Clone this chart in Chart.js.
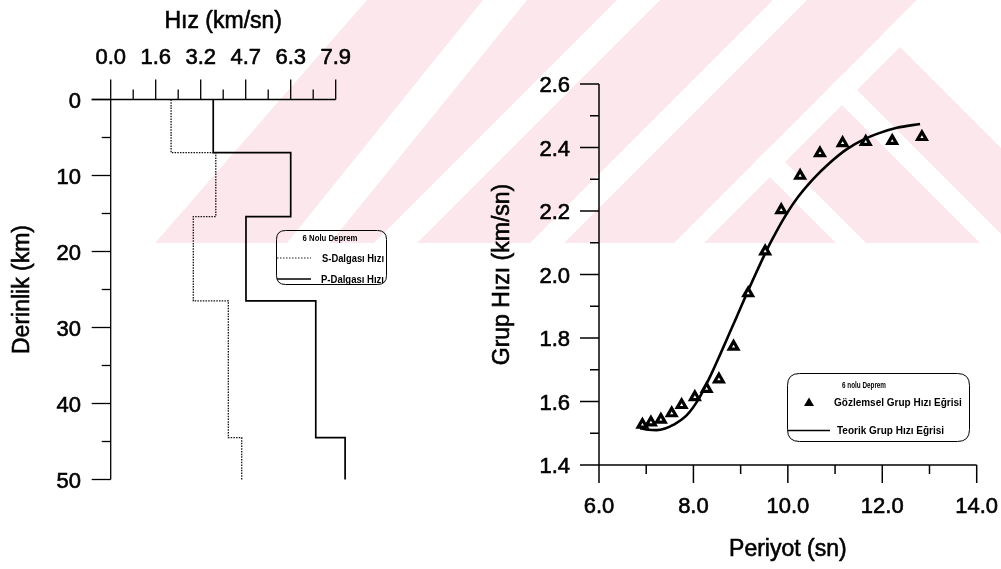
<!DOCTYPE html>
<html><head><meta charset="utf-8">
<script src="https://cdn.jsdelivr.net/npm/chart.js@4.4.0/dist/chart.umd.min.js"></script>
<style>
html,body{margin:0;padding:0;background:#fff;width:1001px;height:569px;overflow:hidden;}
#wm{position:absolute;left:0;top:0;}
canvas{position:absolute;left:0;top:0;}
</style></head><body>
<svg id="wm" width="1001" height="569" xmlns="http://www.w3.org/2000/svg">
  <polygon points="367,0 1001,0 1001,243 155,243" fill="#fce8ec"/>
  <g fill="#ffffff">
    <polygon points="483,0 527,0 330,243 287,243"/>
    <polygon points="617,0 660,0 417,243 374,243"/>
    <polygon points="773,0 807,0 564,243 530,243"/>
    <polygon points="917,0 947,0 704,243 674,243"/>
    <polygon points="842,75 1010,243 980,243 827,90"/>
    <polygon points="770,147 866,243 836,243 755,162"/>
    <polygon points="917,0 1001,0 1001,148 885,32"/>
  </g>
</svg>
<canvas id="c1" width="1001" height="569" style="width:1001px;height:569px"></canvas>
<canvas id="c2" width="1001" height="569" style="width:1001px;height:569px"></canvas>
<script>
// ---------- Data: left chart (velocity-depth profile) ----------
const depthBounds = [0, 7.0, 15.4, 26.5, 44.5, 50];
const sWaveVel = [2.12, 3.69, 2.90, 4.13, 4.60];
const pWaveVel = [3.60, 6.32, 4.75, 7.20, 8.23];
const velTicks = [0, 1.58, 3.16, 4.74, 6.32, 7.9];
const velTickLabels = ['0.0', '1.6', '3.2', '4.7', '6.3', '7.9'];
const depthTicks = [0, 10, 20, 30, 40, 50];
const depthTickLabels = ['0', '10', '20', '30', '40', '50'];

// ---------- Data: right chart (group velocity dispersion) ----------
const obsPeriod = [6.92, 7.10, 7.31, 7.54, 7.75, 8.03, 8.28, 8.54, 8.85, 9.16, 9.52, 9.86, 10.26, 10.68, 11.16, 11.65, 12.21, 12.84];
const obsGroupVel = [1.527, 1.534, 1.543, 1.563, 1.589, 1.614, 1.640, 1.670, 1.773, 1.941, 2.073, 2.203, 2.311, 2.382, 2.414, 2.418, 2.421, 2.433];
const theoPeriod = [6.87, 7.05, 7.22, 7.40, 7.57, 7.86, 8.10, 8.25, 8.39, 8.56, 8.77, 8.99, 9.16, 9.34, 9.48, 9.66, 9.90, 10.15, 10.54, 10.89, 11.25, 11.60, 11.95, 12.31, 12.80];
const theoGroupVel = [1.516, 1.511, 1.510, 1.515, 1.526, 1.557, 1.605, 1.647, 1.690, 1.746, 1.817, 1.892, 1.950, 2.009, 2.054, 2.108, 2.173, 2.231, 2.301, 2.352, 2.395, 2.425, 2.446, 2.462, 2.474];
const periodTicks = [6, 8, 10, 12, 14];
const periodTickLabels = ['6.0', '8.0', '10.0', '12.0', '14.0'];
const gvTicks = [1.4, 1.6, 1.8, 2.0, 2.2, 2.4, 2.6];
const gvTickLabels = ['1.4', '1.6', '1.8', '2.0', '2.2', '2.4', '2.6'];

const FONT = '"Liberation Sans", Arial, Helvetica, sans-serif';

function stepPoints(vels) {
  const pts = [];
  vels.forEach((v, i) => {
    pts.push({x: v, y: depthBounds[i]});
    pts.push({x: v, y: depthBounds[i + 1]});
  });
  return pts;
}
function seg(ctx, x1, y1, x2, y2) { ctx.beginPath(); ctx.moveTo(x1, y1); ctx.lineTo(x2, y2); ctx.stroke(); }
function txt(ctx, s, x, y, font, align, maxW, heavy) {
  ctx.save();
  ctx.font = font; ctx.textAlign = align || 'left'; ctx.textBaseline = 'alphabetic';
  ctx.fillStyle = '#000'; ctx.strokeStyle = '#000';
  if (maxW) ctx.fillText(s, x, y, maxW); else ctx.fillText(s, x, y);
  if (heavy) {
    ctx.lineWidth = heavy; ctx.setLineDash([]);
    if (maxW) ctx.strokeText(s, x, y, maxW); else ctx.strokeText(s, x, y);
  }
  ctx.restore();
}
function rrect(ctx, x, y, w, h, r) {
  ctx.beginPath();
  ctx.moveTo(x + r, y); ctx.lineTo(x + w - r, y); ctx.quadraticCurveTo(x + w, y, x + w, y + r);
  ctx.lineTo(x + w, y + h - r); ctx.quadraticCurveTo(x + w, y + h, x + w - r, y + h);
  ctx.lineTo(x + r, y + h); ctx.quadraticCurveTo(x, y + h, x, y + h - r);
  ctx.lineTo(x, y + r); ctx.quadraticCurveTo(x, y, x + r, y); ctx.closePath(); ctx.stroke();
}

// ---------- Left chart axes / legend plugin ----------
const leftDecor = {
  id: 'leftDecor',
  afterDatasetsDraw(chart) {
    const {ctx, scales: {x, y}} = chart;
    ctx.save();
    ctx.strokeStyle = '#000'; ctx.fillStyle = '#000'; ctx.lineWidth = 1.3;
    const x0 = x.getPixelForValue(0), xE = x.getPixelForValue(velTicks[velTicks.length - 1]);
    const y0 = y.getPixelForValue(0), yE = y.getPixelForValue(50);
    seg(ctx, x0, y0, x0, yE);
    seg(ctx, x0 - 19, y0, xE, y0);
    for (let d = 0; d <= 50; d += 5) {
      const py = y.getPixelForValue(d);
      const len = d % 10 === 0 ? 19 : 9;
      seg(ctx, x0 - len, py, x0, py);
    }
    for (let i = 0; i < velTicks.length; i++) {
      const px = x.getPixelForValue(velTicks[i]);
      seg(ctx, px, y0, px, y0 - 20);
      if (i < velTicks.length - 1) {
        const pm = x.getPixelForValue((velTicks[i] + velTicks[i + 1]) / 2);
        seg(ctx, pm, y0, pm, y0 - 10);
      }
      txt(ctx, velTickLabels[i], px, 64, '22px ' + FONT, 'center', 0, 0.6);
    }
    depthTicks.forEach((d, i) => {
      txt(ctx, depthTickLabels[i], 81, y.getPixelForValue(d) + 8, '22px ' + FONT, 'right', 0, 0.6);
    });
    txt(ctx, 'Hız (km/sn)', (x0 + xE) / 2, 27.5, '23px ' + FONT, 'center', 0, 0.6);
    ctx.save(); ctx.translate(29, (y0 + yE) / 2); ctx.rotate(-Math.PI / 2);
    txt(ctx, 'Derinlik (km)', 0, 0, '23px ' + FONT, 'center', 0, 0.6); ctx.restore();
    // legend
    ctx.lineWidth = 1;
    rrect(ctx, 276.5, 230.5, 110, 54, 9);
    txt(ctx, '6 Nolu Deprem', 330, 240.5, 'bold 8.5px ' + FONT, 'center', 55);
    ctx.setLineDash([1.5, 1.5]); ctx.lineWidth = 1.2; ctx.strokeStyle = '#222';
    seg(ctx, 277, 258, 311, 258);
    ctx.setLineDash([]); ctx.lineWidth = 1.6; ctx.strokeStyle = '#000';
    seg(ctx, 277, 279, 311, 279);
    txt(ctx, 'S-Dalgası Hızı', 322, 261.5, 'bold 10px ' + FONT, 'left', 62);
    txt(ctx, 'P-Dalgası Hızı', 321, 282.5, 'bold 10px ' + FONT, 'left', 63);
    ctx.restore();
  }
};

new Chart(document.getElementById('c1'), {
  type: 'scatter',
  data: {
    datasets: [
      {label: 'S-Dalgası Hızı', data: stepPoints(sWaveVel), showLine: true, borderColor: '#111', borderWidth: 1.3,
       borderDash: [1.5, 1.2], pointRadius: 0, tension: 0, clip: false, fill: false},
      {label: 'P-Dalgası Hızı', data: stepPoints(pWaveVel), showLine: true, borderColor: '#000', borderWidth: 1.7,
       pointRadius: 0, tension: 0, clip: false, fill: false}
    ]
  },
  options: {
    responsive: false, animation: false, events: [],
    layout: {autoPadding: false, padding: {left: 110.7, right: 1001 - 335.7, top: 99.5, bottom: 569 - 479.5}},
    plugins: {legend: {display: false}, tooltip: {enabled: false}},
    scales: {
      x: {type: 'linear', position: 'top', min: 0, max: 7.9, display: false},
      y: {type: 'linear', reverse: true, min: 0, max: 50, display: false}
    }
  },
  plugins: [leftDecor]
});

// ---------- Right chart axes / legend plugin ----------
const rightDecor = {
  id: 'rightDecor',
  afterDatasetsDraw(chart) {
    const {ctx, scales: {x, y}} = chart;
    ctx.save();
    ctx.strokeStyle = '#000'; ctx.fillStyle = '#000'; ctx.lineWidth = 1.5;
    const x0 = x.getPixelForValue(6), xE = x.getPixelForValue(14);
    const y0 = y.getPixelForValue(1.4), yT = y.getPixelForValue(2.6);
    seg(ctx, x0, yT, x0, y0);
    seg(ctx, x0, y0, xE, y0);
    for (let i = 0; i < gvTicks.length; i++) {
      const py = y.getPixelForValue(gvTicks[i]);
      seg(ctx, x0 - 19, py, x0, py);
      if (i < gvTicks.length - 1) {
        const pm = y.getPixelForValue((gvTicks[i] + gvTicks[i + 1]) / 2);
        seg(ctx, x0 - 9, pm, x0, pm);
      }
      txt(ctx, gvTickLabels[i], 570, py + 8, '22px ' + FONT, 'right', 0, 0.6);
    }
    for (let i = 0; i < periodTicks.length; i++) {
      const px = x.getPixelForValue(periodTicks[i]);
      seg(ctx, px, y0, px, y0 + 18);
      if (i < periodTicks.length - 1) {
        const pm = x.getPixelForValue((periodTicks[i] + periodTicks[i + 1]) / 2);
        seg(ctx, pm, y0, pm, y0 + 9);
      }
      txt(ctx, periodTickLabels[i], px, 513, '22px ' + FONT, 'center', 0, 0.6);
    }
    txt(ctx, 'Periyot (sn)', (x0 + xE) / 2, 556, '23px ' + FONT, 'center', 0, 0.6);
    ctx.save(); ctx.translate(509, (y0 + yT) / 2); ctx.rotate(-Math.PI / 2);
    txt(ctx, 'Grup Hızı (km/sn)', 0, 0, '23px ' + FONT, 'center', 0, 0.6); ctx.restore();
    // legend
    ctx.lineWidth = 1;
    rrect(ctx, 787.5, 373.5, 182, 68, 12);
    txt(ctx, '6 nolu Deprem', 864, 387.5, 'bold 9px ' + FONT, 'center', 44);
    ctx.beginPath(); ctx.moveTo(809, 397.5); ctx.lineTo(814, 406); ctx.lineTo(804, 406); ctx.closePath(); ctx.fill();
    txt(ctx, 'Gözlemsel Grup Hızı Eğrisi', 834, 405.5, 'bold 10px ' + FONT, 'left', 131);
    ctx.lineWidth = 1.6;
    seg(ctx, 788, 430.5, 830, 430.5);
    txt(ctx, 'Teorik Grup Hızı Eğrisi', 837, 434, 'bold 10px ' + FONT, 'left', 110);
    ctx.restore();
  }
};

new Chart(document.getElementById('c2'), {
  type: 'scatter',
  data: {
    datasets: [
      {label: 'Gözlemsel Grup Hızı Eğrisi', data: obsPeriod.map((t, i) => ({x: t, y: obsGroupVel[i]})),
       showLine: false, pointStyle: 'triangle', pointRadius: 5, borderWidth: 3.2,
       borderColor: '#000', backgroundColor: '#fff', order: 0, clip: false},
      {label: 'Teorik Grup Hızı Eğrisi', data: theoPeriod.map((t, i) => ({x: t, y: theoGroupVel[i]})),
       showLine: true, pointRadius: 0, borderWidth: 2.6, borderColor: '#000', cubicInterpolationMode: 'monotone',
       order: 1, clip: false, fill: false}
    ]
  },
  options: {
    responsive: false, animation: false, events: [],
    layout: {autoPadding: false, padding: {left: 599, right: 1001 - 976.7, top: 84, bottom: 569 - 465}},
    plugins: {legend: {display: false}, tooltip: {enabled: false}},
    scales: {
      x: {type: 'linear', min: 6, max: 14, display: false},
      y: {type: 'linear', min: 1.4, max: 2.6, display: false}
    }
  },
  plugins: [rightDecor]
});
</script>
</body></html>
